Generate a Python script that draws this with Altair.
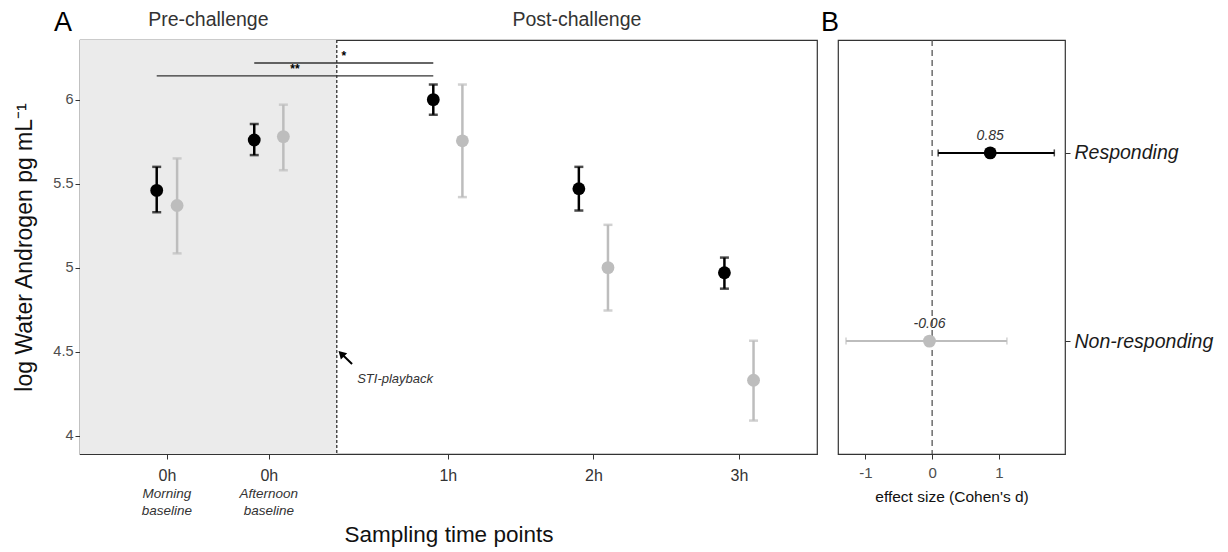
import altair as alt
import pandas as pd

# ---------------- data ----------------
timepoints = ["Morning baseline", "Afternoon baseline", "1h", "2h", "3h"]
x_pos = [-0.93, -0.23, 1, 2, 3]          # position of each sampling time on the x axis
dodge = [0.07, 0.10, 0.10, 0.10, 0.10]   # half distance between the two groups
sub_labels = ["Morning\nbaseline", "Afternoon\nbaseline"]

groups = ["Responding", "Non-responding"]
resp_mean = [5.46, 5.76, 6.00, 5.47, 4.97]
resp_lo = [5.33, 5.67, 5.91, 5.34, 4.875]
resp_hi = [5.60, 5.855, 6.09, 5.60, 5.06]
non_mean = [5.37, 5.78, 5.755, 5.00, 4.33]
non_lo = [5.085, 5.58, 5.42, 4.745, 4.09]
non_hi = [5.65, 5.97, 6.09, 5.255, 4.565]

sig_from = [1, 0]        # index of start time point (Responding group)
sig_to = [2, 2]
sig_y = [6.218, 6.141]
sig_text = ["*", "**"]

playback_x = 0.237
x_domain = [-1.527, 3.536]
y_domain = [3.891, 6.355]

eff_group = ["Responding", "Non-responding"]
eff_val = [0.87, -0.04]
eff_lo = [0.09, -1.29]
eff_hi = [1.83, 1.12]
eff_label = ["0.85", "-0.06"]
b_domain = [-1.41, 1.99]

FONT = "Liberation Sans"
W_A, W_B, H = 737, 227, 414

# ---------------- tables ----------------
rows = []
for i, t in enumerate(timepoints):
    rows.append(dict(time=t, group="Responding", x=x_pos[i] - dodge[i],
                     mean=resp_mean[i], lo=resp_lo[i], hi=resp_hi[i]))
    rows.append(dict(time=t, group="Non-responding", x=x_pos[i] + dodge[i],
                     mean=non_mean[i], lo=non_lo[i], hi=non_hi[i]))
df = pd.DataFrame(rows)

sig_df = pd.DataFrame(dict(
    x1=[x_pos[a] - dodge[a] for a in sig_from],
    x2=[x_pos[b] - dodge[b] for b in sig_to],
    y=sig_y, label=sig_text))
sig_df["xm"] = (sig_df.x1 + sig_df.x2) / 2

sub_df = pd.DataFrame(dict(x=x_pos[:2], label=sub_labels))
bg_df = pd.DataFrame(dict(x1=[x_domain[0]], x2=[playback_x]))
vline_df = pd.DataFrame(dict(x=[playback_x]))
phase_df = pd.DataFrame(dict(
    x=[(x_domain[0] + playback_x) / 2, (playback_x + x_domain[1]) / 2],
    label=["Pre-challenge", "Post-challenge"]))
arrow_df = pd.DataFrame(dict(x1=[0.342], y1=[4.427], x2=[0.262], y2=[4.494]))
arrow_head = pd.DataFrame(dict(x=[0.268], y=[4.488]))
note_df = pd.DataFrame(dict(x=[0.377], y=[4.337], label=["STI-playback"]))

color = alt.Color("group:N", scale=alt.Scale(domain=groups, range=["#000000", "#bdbdbd"]),
                  legend=None)

X = alt.X("x:Q", scale=alt.Scale(domain=x_domain, nice=False, zero=False),
          axis=alt.Axis(values=x_pos, title="Sampling time points",
                        labelExpr="datum.value < 0 ? '0h' : datum.value + 'h'",
                        grid=False, tickSize=5, labelFontSize=16, labelPadding=8,
                        labelColor="#333333", titleFontSize=22.5, titleFontWeight="normal",
                        titlePadding=40, titleColor="#111111"))
Y = alt.Y("mean:Q", scale=alt.Scale(domain=y_domain, nice=False, zero=False),
          axis=alt.Axis(values=[4, 4.5, 5, 5.5, 6], labelExpr="'' + datum.value",
                        title="log Water Androgen pg mL⁻¹",
                        grid=False, tickSize=5, labelFontSize=14.5, labelColor="#4d4d4d",
                        titleFontSize=23, titleFontWeight="normal", titlePadding=16,
                        titleColor="#111111"))

bg = alt.Chart(bg_df).mark_rect(color="#ebebeb").encode(
    x=alt.X("x1:Q", scale=alt.Scale(domain=x_domain, nice=False, zero=False)),
    x2="x2:Q", y=alt.value(0), y2=alt.value(H))
vline = alt.Chart(vline_df).mark_rule(color="#333333", strokeDash=[3, 2], strokeWidth=1.3).encode(
    x="x:Q", y=alt.value(0), y2=alt.value(H))
sig_lines = alt.Chart(sig_df).mark_rule(color="#333333", strokeWidth=1.3).encode(
    x="x1:Q", x2="x2:Q", y="y:Q")
sig_stars = alt.Chart(sig_df).mark_text(font=FONT, fontSize=12, fontWeight="bold",
                                        baseline="bottom", dy=0).encode(
    x="xm:Q", y="y:Q", text="label:N")
bars = alt.Chart(df).mark_rule(strokeWidth=2.5).encode(
    x="x:Q", y="lo:Q", y2="hi:Q", color=color)
cap_lo = alt.Chart(df).mark_tick(orient="horizontal", size=9, thickness=2.5).encode(
    x="x:Q", y="lo:Q", color=color)
cap_hi = alt.Chart(df).mark_tick(orient="horizontal", size=9, thickness=2.5).encode(
    x="x:Q", y="hi:Q", color=color)
pts = alt.Chart(df).mark_circle(size=165, opacity=1).encode(
    x=X, y=Y, color=color)
arrow = alt.Chart(arrow_df).mark_rule(color="#000000", strokeWidth=2).encode(
    x="x1:Q", x2="x2:Q", y="y1:Q", y2="y2:Q")
head = alt.Chart(arrow_head).mark_point(shape="triangle-up", angle=315, filled=True,
                                        size=80, color="#000000", opacity=1).encode(
    x="x:Q", y="y:Q")
note = alt.Chart(note_df).mark_text(font=FONT, fontSize=13, fontStyle="italic",
                                    align="left", color="#333333").encode(
    x="x:Q", y="y:Q", text="label:N")
phase = alt.Chart(phase_df).mark_text(font=FONT, fontSize=19.5, color="#333333",
                                      baseline="middle").encode(
    x="x:Q", y=alt.value(-20), text="label:N")
subs = alt.Chart(sub_df).mark_text(font=FONT, fontSize=13.5, fontStyle="italic",
                                   lineBreak="\n", lineHeight=17, baseline="middle",
                                   color="#333333").encode(
    x="x:Q", y=alt.value(H + 40), text="label:N")
tagA = alt.Chart(pd.DataFrame(dict(t=["A"]))).mark_text(
    font=FONT, fontSize=27, baseline="middle", color="#000000").encode(
    x=alt.value(-17), y=alt.value(-17), text="t:N")

panelA = alt.layer(bg, vline, sig_lines, sig_stars, bars, cap_lo, cap_hi, pts,
                   arrow, head, note, phase, subs, tagA).properties(width=W_A, height=H)

# ---------------- panel B ----------------
eff_df = pd.DataFrame(dict(group=eff_group, val=eff_val, lo=eff_lo, hi=eff_hi, label=eff_label))
XB = alt.X("val:Q", scale=alt.Scale(domain=b_domain, nice=False, zero=False),
           axis=alt.Axis(values=[-1, 0, 1], labelExpr="'' + datum.value",
                         title="effect size (Cohen's d)",
                         grid=False, tickSize=5, labelFontSize=15, labelColor="#4d4d4d",
                         labelPadding=6, titleFontSize=15.5, titleFontWeight="normal",
                         titlePadding=9, titleColor="#111111"))
YB = alt.Y("group:N", scale=alt.Scale(domain=eff_group, type="point", padding=0.6),
           axis=alt.Axis(orient="right", title=None, tickSize=5, labelFontSize=19.5,
                         labelFontStyle="italic", labelColor="#1a1a1a", labelPadding=4,
                         domain=False, grid=False))
zero = alt.Chart(pd.DataFrame(dict(v=[0]))).mark_rule(
    color="#555555", strokeDash=[6, 4], strokeWidth=1.3).encode(
    x=alt.X("v:Q", scale=alt.Scale(domain=b_domain, nice=False, zero=False)),
    y=alt.value(0), y2=alt.value(H))
ebar = alt.Chart(eff_df).mark_rule(strokeWidth=2).encode(
    x="lo:Q", x2="hi:Q", y=YB, color=color)
ecap_lo = alt.Chart(eff_df).mark_tick(orient="vertical", size=7, thickness=1.5).encode(
    x="lo:Q", y="group:N", color=color)
ecap_hi = alt.Chart(eff_df).mark_tick(orient="vertical", size=7, thickness=1.5).encode(
    x="hi:Q", y="group:N", color=color)
epts = alt.Chart(eff_df).mark_circle(size=165, opacity=1).encode(
    x=XB, y="group:N", color=color)
elab = alt.Chart(eff_df).mark_text(font=FONT, fontSize=14, fontStyle="italic",
                                   dy=-17, color="#333333").encode(
    x="val:Q", y="group:N", text="label:N")
tagB = alt.Chart(pd.DataFrame(dict(t=["B"]))).mark_text(
    font=FONT, fontSize=27, baseline="middle", color="#000000").encode(
    x=alt.value(-8), y=alt.value(-17), text="t:N")

panelB = alt.layer(zero, ebar, ecap_lo, ecap_hi, epts, elab, tagB).properties(
    width=W_B, height=H)

chart = alt.hconcat(panelA, panelB, spacing=2).properties(
    padding={"left": 5, "top": 0, "right": 5, "bottom": 5}
).configure_view(stroke="#333333", strokeWidth=1.2).configure_axis(
    domainColor="#333333", tickColor="#333333", labelFont=FONT, titleFont=FONT
).configure_text(font=FONT)

chart.save("out.html", embed_options={"renderer": "svg", "actions": False})
